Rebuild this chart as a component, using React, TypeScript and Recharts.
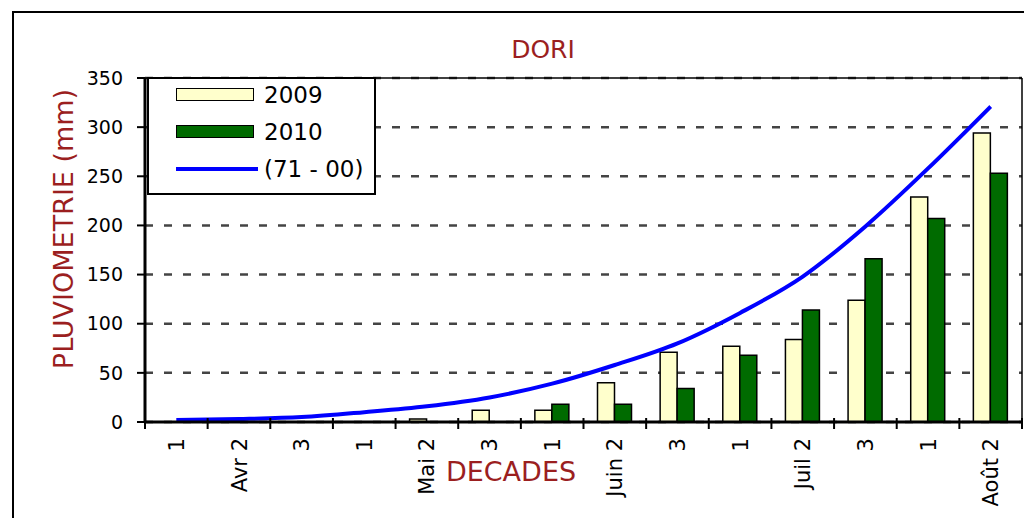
import React from 'react';
import {
  ComposedChart,
  Bar,
  Line,
  XAxis,
  YAxis,
  CartesianGrid,
  Legend,
  ReferenceLine,
} from 'recharts';

// Décades d'avril à août (le mois est porté par la décade 2)
const DECADE_LABELS = [
  '1', 'Avr 2', '3',
  '1', 'Mai 2', '3',
  '1', 'Juin 2', '3',
  '1', 'Juil 2', '3',
  '1', 'Août 2',
];

// Cumuls pluviométriques (mm)
const RAIN_2009 = [0, 0, 0, 0, 3, 12, 12, 40, 71, 77, 84, 124, 229, 294];
const RAIN_2010 = [0, 0, 0, 0, 0, 0, 18, 18, 34, 68, 114, 166, 207, 253];
const NORMALE_71_00 = [2, 3, 5, 10, 16, 25, 39, 58, 80, 111, 148, 199, 258, 321];

const Y_TICKS = [0, 50, 100, 150, 200, 250, 300, 350];
const SERIES_NAMES = ['2009', '2010', '(71 - 00)'];

const data = DECADE_LABELS.map((decade, i) => ({
  decade,
  y2009: RAIN_2009[i],
  y2010: RAIN_2010[i],
  normale: NORMALE_71_00[i],
}));

const W = 1024;
const H = 518;
const PLOT_LEFT = 145;
const PLOT_RIGHT = 1022;
const PLOT_TOP = 78;
const PLOT_BOTTOM = 422;
const FONT = '"DejaVu Sans", "Liberation Sans", Arial, sans-serif';
const DARK_RED = '#9B1F1F';
const YELLOW = '#FFFFCC';
const GREEN = '#006B00';
const BLUE = '#0000FF';

const BAND = (PLOT_RIGHT - PLOT_LEFT) / DECADE_LABELS.length;

function DecadeTick(props: any) {
  const { x, y, payload, index } = props;
  const idx = payload && payload.index != null ? payload.index : index;
  const left = x - BAND / 2;
  const ty = y + 16;
  return (
    <g>
      <line x1={left} x2={left} y1={y - 4} y2={y + 7} stroke="#000" strokeWidth={2} />
      {idx === DECADE_LABELS.length - 1 && (
        <line x1={x + BAND / 2} x2={x + BAND / 2} y1={y - 4} y2={y + 7} stroke="#000" strokeWidth={2} />
      )}
      <text
        x={x}
        y={ty}
        transform={`rotate(-90 ${x} ${ty})`}
        textAnchor="end"
        dy="0.36em"
        fontSize={21}
        fontFamily={FONT}
        fill="#000"
      >
        {payload.value}
      </text>
    </g>
  );
}

const ROW_CENTERS = [15.5, 52.5, 90];

function renderLegend(props: any) {
  const payload: any[] = props.payload || [];
  const items = [...payload].sort(
    (a, b) => SERIES_NAMES.indexOf(String(a.value)) - SERIES_NAMES.indexOf(String(b.value))
  );
  return (
    <div
      style={{
        position: 'relative',
        width: 229,
        height: 118,
        boxSizing: 'border-box',
        border: '2px solid #000',
        background: '#fff',
        fontFamily: FONT,
      }}
    >
      {items.map((item, i) => {
        const isLine = item.type === 'line';
        const c = ROW_CENTERS[i];
        return (
          <React.Fragment key={String(item.value)}>
            {isLine ? (
              <div
                style={{
                  position: 'absolute',
                  left: 27,
                  top: c - 2,
                  width: 82,
                  height: 4,
                  background: item.color,
                }}
              />
            ) : (
              <div
                style={{
                  position: 'absolute',
                  left: 27,
                  top: c - 6.5,
                  width: 78,
                  height: 13,
                  boxSizing: 'border-box',
                  border: '1.5px solid #000',
                  background: item.color,
                }}
              />
            )}
            <div
              style={{
                position: 'absolute',
                left: 115,
                top: c,
                transform: 'translateY(-50%)',
                fontSize: 23,
                lineHeight: 1,
                color: '#000',
                whiteSpace: 'nowrap',
              }}
            >
              {item.value}
            </div>
          </React.Fragment>
        );
      })}
    </div>
  );
}

export default function App() {
  return (
    <div
      style={{
        position: 'fixed',
        left: 0,
        top: 0,
        width: W,
        height: H,
        overflow: 'hidden',
        background: '#fff',
      }}
    >
      <div
        style={{
          position: 'absolute',
          left: 12,
          top: 11,
          width: 1100,
          height: 600,
          border: '2px solid #000',
        }}
      />
      <div style={{ position: 'absolute', left: 0, top: 0 }}>
        <ComposedChart
          width={W}
          height={H}
          data={data}
          margin={{ top: PLOT_TOP, right: W - PLOT_RIGHT - 2, bottom: 0, left: 0 }}
          barGap={0}
        >
          <CartesianGrid
            horizontal
            vertical={false}
            stroke="#444"
            strokeWidth={2.5}
            strokeDasharray="8 11"
          />
          <XAxis
            dataKey="decade"
            height={H - PLOT_BOTTOM}
            interval={0}
            tickSize={0}
            tickMargin={0}
            tickLine={false}
            axisLine={{ stroke: '#000', strokeWidth: 3 }}
            tick={<DecadeTick />}
          />
          <YAxis
            width={PLOT_LEFT}
            domain={[0, 350]}
            ticks={Y_TICKS}
            interval={0}
            tickSize={8}
            tickMargin={14}
            axisLine={{ stroke: '#000', strokeWidth: 3 }}
            tickLine={{ stroke: '#000', strokeWidth: 2 }}
            tick={{ fill: '#000', fontSize: 19, fontFamily: FONT }}
          />
          <YAxis
            yAxisId="right"
            orientation="right"
            width={2}
            domain={[0, 350]}
            tick={false}
            tickLine={false}
            axisLine={{ stroke: '#000', strokeWidth: 1.5 }}
          />
          <ReferenceLine y={350} stroke="#000" strokeWidth={1.5} />
          <Bar
            dataKey="y2009"
            name="2009"
            fill={YELLOW}
            stroke="#000"
            strokeWidth={1.5}
            barSize={17}
            isAnimationActive={false}
          />
          <Bar
            dataKey="y2010"
            name="2010"
            fill={GREEN}
            stroke="#000"
            strokeWidth={1.5}
            barSize={17}
            isAnimationActive={false}
          />
          <Line
            type="monotone"
            dataKey="normale"
            name="(71 - 00)"
            stroke={BLUE}
            strokeWidth={4}
            dot={false}
            isAnimationActive={false}
          />
          <Legend
            layout="horizontal"
            verticalAlign="middle"
            align="center"
            wrapperStyle={{ left: 147, top: 77, width: 229, height: 118 }}
            content={renderLegend}
          />
        </ComposedChart>
      </div>
      <div
        style={{
          position: 'absolute',
          left: 543,
          top: 49,
          transform: 'translate(-50%, -50%)',
          fontFamily: FONT,
          fontSize: 25,
          lineHeight: 1,
          color: DARK_RED,
          whiteSpace: 'nowrap',
        }}
      >
        DORI
      </div>
      <div
        style={{
          position: 'absolute',
          left: 63,
          top: 229,
          transform: 'translate(-50%, -50%) rotate(-90deg)',
          fontFamily: FONT,
          fontSize: 27,
          lineHeight: 1,
          color: DARK_RED,
          whiteSpace: 'nowrap',
        }}
      >
        PLUVIOMETRIE (mm)
      </div>
      <div
        style={{
          position: 'absolute',
          left: 511,
          top: 471,
          transform: 'translate(-50%, -50%)',
          fontFamily: FONT,
          fontSize: 27,
          lineHeight: 1,
          color: DARK_RED,
          whiteSpace: 'nowrap',
        }}
      >
        DECADES
      </div>
    </div>
  );
}
